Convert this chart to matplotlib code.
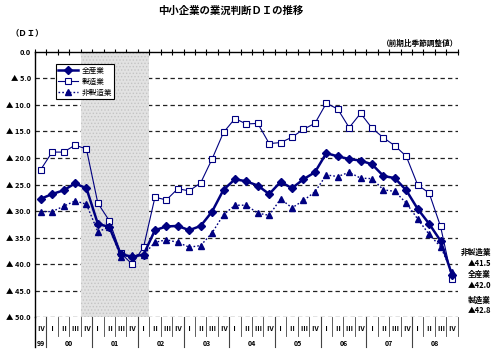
import matplotlib
matplotlib.use('Agg')
import matplotlib.pyplot as plt
import matplotlib.transforms as mtransforms
import numpy as np

plt.rcParams['font.family'] = ['Noto Sans CJK JP', 'DejaVu Sans']
plt.rcParams['hatch.linewidth'] = 0.6

# quarters from 1999 IV to 2008 IV
quarters = ['Ⅳ'] + ['Ⅰ', 'Ⅱ', 'Ⅲ', 'Ⅳ'] * 9
years = ['99', '00', '01', '02', '03', '04', '05', '06', '07', '08']

# DI values (negative, shown as ▲)
all_industry = [27.7, 26.8, 26.1, 24.8, 25.7, 32.4, 33.0, 38.1, 38.6, 38.2,
                33.6, 32.9, 32.8, 33.6, 32.8, 30.1, 26.0, 24.0, 24.4, 25.2,
                26.8, 24.5, 25.7, 24.0, 22.7, 19.1, 19.7, 20.2, 20.5, 21.2,
                23.4, 23.8, 26.1, 29.6, 32.4, 35.6, 42.0]
manufacturing = [22.2, 18.9, 18.9, 17.6, 18.3, 28.5, 31.8, 37.9, 40.0, 36.8,
                 27.4, 27.9, 25.8, 26.2, 24.7, 20.2, 15.2, 12.6, 13.6, 13.5,
                 17.3, 17.1, 16.1, 14.6, 13.5, 9.7, 10.8, 14.3, 11.6, 14.4,
                 16.2, 17.7, 19.7, 25.1, 26.6, 32.9, 42.8]
non_manufacturing = [30.1, 30.1, 29.1, 28.1, 28.7, 33.9, 33.0, 38.6, 38.3, 38.2,
                     35.9, 35.4, 35.9, 36.8, 36.5, 34.1, 30.7, 28.9, 28.9, 30.4,
                     30.8, 27.7, 29.4, 28.0, 26.4, 23.2, 23.5, 22.7, 23.8, 23.9,
                     26.0, 26.3, 28.5, 31.5, 34.4, 36.7, 41.5]
recession = (4, 10)  # category span of the shaded period

navy = '#000080'
W, H = 500, 358
fig = plt.figure(figsize=(W / 100, H / 100), dpi=100)
ax = fig.add_axes([35 / W, 1 - 317.3 / H, (457.7 - 35) / W, (317.3 - 51.7) / H])

n = len(quarters)
x = np.arange(n) + 0.5
ax.set_xlim(0, n)
ax.set_ylim(50, 0)

# gridlines
for v in range(5, 51, 5):
    ax.axhline(v, color='#222222', lw=0.9, ls=(0, (3.5, 2.5)), zorder=1)

ax.axvspan(recession[0], recession[1], facecolor='#e2e2e2', edgecolor='#c4c4c4',
           hatch='.....', lw=0, zorder=2)

ax.plot(x, manufacturing, color=navy, lw=0.8, marker='s', ms=3.8,
        mfc='white', mec=navy, mew=0.8, label='製造業', zorder=4)
ax.plot(x, non_manufacturing, color=navy, lw=1.0, ls=(0, (1.2, 1.5)), marker='^',
        ms=3.8, mfc=navy, mec=navy, label='非製造業', zorder=4)
ax.plot(x, all_industry, color=navy, lw=1.8, marker='D', ms=3.6,
        mfc=navy, mec=navy, label='全産業', zorder=5)

handles, labels = ax.get_legend_handles_labels()
order = [2, 0, 1]
leg = ax.legend([handles[i] for i in order], [labels[i] for i in order],
                loc='upper left', bbox_to_anchor=(0.049, 0.954), borderaxespad=0,
                fontsize=5.5, handlelength=2.6, handletextpad=0.4, labelspacing=0.4,
                borderpad=0.35, fancybox=False, framealpha=1, edgecolor='black')
leg.get_frame().set_linewidth(0.8)
leg.set_zorder(6)

# axes styling
for s in ['right', 'bottom']:
    ax.spines[s].set_visible(False)
ax.spines['top'].set_linewidth(1.0)
ax.spines['left'].set_linewidth(1.0)
ax.xaxis.set_ticks_position('top')
ax.set_xticks(np.arange(n + 1))
ax.tick_params(axis='x', direction='inout', length=4, width=0.8, labeltop=False, labelbottom=False)
yt = list(range(0, 51, 5))
ax.set_yticks(yt)
ax.set_yticklabels(['0.0'] + ['▲ %.1f' % v for v in yt[1:]], fontsize=5.3, fontweight='bold')
ax.tick_params(axis='y', length=0, pad=3)

# category axis below
trans = mtransforms.blended_transform_factory(ax.transData, fig.transFigure)
y_top = 1 - 317.3 / H
for i, q in enumerate(quarters):
    t = fig.text(0, 1 - 328.5 / H, q, transform=trans, fontsize=5, fontweight='bold',
                 ha='center', va='center')
    t.set_x(i + 0.5)
for b in range(1, n):
    year_sep = (b - 1) % 4 == 0
    y_bot = 1 - (347 if year_sep else 336) / H
    ax.plot([b, b], [y_top, y_bot], transform=trans, color='#444444',
            lw=0.8 if year_sep else 0.6, clip_on=False)
ax.plot([0, 0], [y_top, 1 - 347 / H], transform=trans, color='black', lw=1.0, clip_on=False)
ax.plot([n, n], [y_top, 1 - 336 / H], transform=trans, color='#444444', lw=0.6, clip_on=False)
year_centers = [0.5] + [3 + 4 * k for k in range(9)]
for yc, yl in zip(year_centers, years):
    t = fig.text(0, 1 - 343.5 / H, yl, transform=trans, fontsize=5, fontweight='bold',
                 ha='center', va='center')
    t.set_x(yc)

# titles and notes
fig.text(231 / W, 1 - 11 / H, '中小企業の業況判断ＤＩの推移', fontsize=7.5, fontweight='bold',
         ha='center', va='center')
fig.text(10 / W, 1 - 33 / H, '（ＤＩ）', fontsize=6, fontweight='bold', ha='left', va='center')
fig.text(458 / W, 1 - 43 / H, '（前期比季節調整値）', fontsize=5.5, fontweight='bold',
         ha='right', va='center')

notes = [('非製造業', 252), ('▲41.5', 263), ('全産業', 274), ('▲42.0', 285),
         ('製造業', 300), ('▲42.8', 310.5)]
for txt, py in notes:
    fig.text(491 / W, 1 - py / H, txt, fontsize=5.5, fontweight='bold', ha='right', va='center')

fig.savefig('out.png', dpi=100, facecolor='white')
